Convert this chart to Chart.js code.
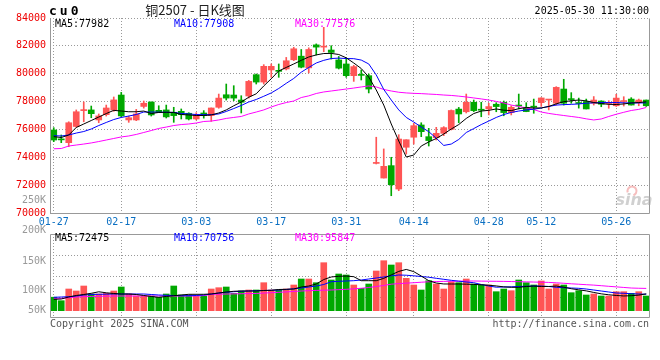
<!DOCTYPE html>
<html><head><meta charset="utf-8">
<script src="https://cdn.jsdelivr.net/npm/chart.js@4/dist/chart.umd.min.js"></script>
<style>
html,body{margin:0;padding:0;background:#fff;}
#wrap{position:relative;width:660px;height:360px;overflow:hidden;background:#fff;}
#wrap canvas{position:absolute;left:0;top:0;}
</style></head><body>
<div id="wrap"><canvas id="main" width="660" height="360"></canvas><canvas id="vol" width="660" height="360"></canvas></div>
<script>
// ---------- DATA ----------
const dates = ['01-27','02-05','02-06','02-07','02-10','02-11','02-12','02-13','02-14',
 '02-17','02-18','02-19','02-20','02-21','02-24','02-25','02-26','02-27','02-28',
 '03-03','03-04','03-05','03-06','03-07','03-10','03-11','03-12','03-13','03-14',
 '03-17','03-18','03-19','03-20','03-21','03-24','03-25','03-26','03-27','03-28',
 '03-31','04-01','04-02','04-03','04-07','04-08','04-09','04-10','04-11',
 '04-14','04-15','04-16','04-17','04-18','04-21','04-22','04-23','04-24','04-25',
 '04-28','04-29','04-30','05-06','05-07','05-08','05-09',
 '05-12','05-13','05-14','05-15','05-16','05-19','05-20','05-21','05-22','05-23',
 '05-26','05-27','05-28','05-29','05-30'];
const tickDates = ['01-27','02-17','03-03','03-17','03-31','04-14','04-28','05-12','05-26'];
const priceTicks = [70000,72000,74000,76000,78000,80000,82000,84000];

const opens  = [75960,75300,75050,76210,77350,77400,76680,77060,77400,78470,
 76680,76680,77650,77970,77370,77400,77230,77300,77160,76750,
 77180,76990,77590,78490,78470,78110,78400,79930,79400,80270,
 80220,80340,81000,81260,80420,82070,81910,81700,80990,80700,
 79860,79910,79860,73560,72510,73400,71720,74720,75440,76320,
 75480,75410,75720,76010,77460,77270,77950,77400,77470,77810,
 77950,77210,77700,77590,77640,77920,78110,77880,78900,78160,
 77900,78000,77880,78040,77860,77700,78000,78180,77950,78110];
const highs  = [76125,75600,76550,77400,77970,77680,77110,77750,78330,78660,
 76960,77440,78040,77970,77700,77750,77590,77470,77200,77200,
 77350,77540,78540,79260,79140,78420,79520,79980,80650,80700,
 80700,81170,81900,81740,81860,82140,83330,82010,81240,81130,
 80600,80270,79980,75440,74600,74000,75620,75260,76440,76480,
 76080,76150,76200,77400,77580,78540,78110,77950,77880,77920,
 78040,77700,78540,77920,78180,78280,78160,79070,79600,78640,
 78250,78180,78360,78060,78060,78520,78350,78280,78180,78110];
const lows   = [75120,75050,74760,76150,76550,76840,76480,76960,77300,76910,
 76510,76630,77530,76960,77210,76820,76510,76750,76680,76680,
 76810,76580,77520,78110,78070,77180,78250,79260,79260,79740,
 79740,80270,80940,80420,80060,81340,81580,81050,80340,79740,
 79450,79550,78620,73520,72510,71240,71600,74230,74950,75480,
 74810,75240,75550,75960,76480,77180,77280,76910,77040,77270,
 76980,77040,77470,77270,77160,77650,77400,77750,77750,77880,
 77530,77470,77750,77630,77520,77650,77680,77750,77700,77650];
const closes = [75240,75250,76480,77270,77400,77130,76970,77540,78120,76970,
 76840,77110,77880,77040,77210,76900,76990,77060,76750,77040,
 76990,77540,78250,78250,78250,77950,79450,79400,80530,80530,
 80170,80930,81790,80470,81740,81910,81980,81530,80400,79860,
 80510,79880,78900,73590,73350,72030,75310,75260,76270,75840,
 75200,75720,76130,77360,77110,77950,77350,77380,77640,77640,
 77210,77590,77680,77280,77600,78260,78150,79020,77880,78140,
 77860,77470,78110,77810,77900,78250,78060,77750,78110,77700];

const ma5  = [75480,75420,75600,76140,76390,76640,76890,77140,77370,77320,
 77270,77270,77320,77140,77220,77230,77220,77070,77040,77000,
 77000,77040,77180,77400,77700,77970,78310,78560,79120,79640,
 80200,80450,80700,80960,81200,81350,81450,81460,81380,81140,
 80770,80370,79760,78830,77750,76390,75170,74020,74160,74810,
 75100,75350,75670,76030,76350,76790,77140,77320,77370,77470,
 77380,77350,77490,77570,77540,77540,77650,77840,77990,78060,
 78110,78050,77930,77860,77800,77790,77830,77900,77930,77982];
const ma10 = [75550,75530,75600,75740,75850,76030,76280,76500,76710,76860,
 76960,77070,77250,77250,77240,77230,77220,77150,77110,77070,
 77060,77060,77110,77290,77500,77720,77970,78150,78380,78620,
 78940,79310,79660,80110,80450,80770,80960,81090,81120,81090,
 81080,80980,80700,79910,78870,78110,77400,76860,76530,76170,
 75840,75370,74850,74950,75280,75780,76060,76350,76600,76860,
 77070,77220,77320,77400,77450,77540,77650,77750,77780,77800,
 77830,77880,77910,77930,77930,77930,77910,77900,77900,77908];
const ma30 = [74610,74630,74810,74880,74950,75030,75130,75240,75350,75460,
 75530,75640,75780,75920,76070,76170,76280,76350,76390,76460,
 76570,76600,76680,76790,76860,76930,77110,77250,77400,77610,
 77790,77930,78040,78290,78410,78580,78690,78760,78830,78900,
 78970,79050,79120,79050,78870,78760,78670,78620,78590,78570,
 78540,78510,78470,78440,78390,78330,78260,78190,78110,78010,
 77900,77750,77650,77540,77430,77250,77150,77070,77000,76930,
 76860,76760,76680,76750,76930,77090,77230,77360,77440,77576];

const vols = [58000,43000,93300,84700,106200,71800,71800,74800,84700,101900,
 71800,63200,63200,63200,57600,71800,106200,67500,67500,63200,
 63200,93300,98900,101900,74800,84700,89000,89000,120400,89000,
 89000,93300,110500,136300,136300,120400,206400,132000,157800,153500,
 110500,96300,114800,170700,215000,196500,206400,139300,110500,89000,
 129000,114800,93300,124700,120400,136300,114800,110500,110500,81700,
 93300,86000,132000,120400,110500,127700,93300,114800,110500,77400,
 86000,67500,71800,63200,63200,81700,81700,74800,81700,63200];
const vma5 = [49000,50300,58900,65400,69700,74800,81300,77000,74000,71800,
 71800,69700,65400,61100,57600,61100,64500,67500,70500,70500,
 70500,71800,76100,80400,83400,84700,84700,84700,86900,87700,
 91200,92000,93300,101900,106200,114800,134000,145000,148000,149000,
 146200,129000,129000,129000,139000,154000,169000,177500,168000,149000,
 129000,119000,115000,114800,114800,114000,113000,111500,109500,106500,
 102500,100600,100600,104000,105800,104000,104000,106000,101000,94500,
 89800,85300,78500,72500,68500,65500,63300,64500,67000,72475];
const vma10 = [57600,58900,60200,63200,67500,69700,70500,71000,71800,71800,
 71800,71800,71800,69700,67500,66200,65400,64500,64500,65400,
 67500,71800,76100,79100,81700,83400,84700,86000,86900,87700,
 89000,91200,94200,97600,101900,106200,112700,124700,126400,127700,
 129000,132000,136300,140600,144900,150000,153500,152500,150000,147000,
 144000,139300,135000,130700,126900,123400,120400,112700,106200,101000,
 101900,102800,104100,104900,106200,106200,104100,100600,98900,97600,
 96300,93300,89000,84700,80400,76100,74800,73100,71800,70756];
const vma30 = [53300,53300,55900,58900,60200,61100,61900,62400,63200,63200,
 63200,63200,63200,63200,63200,63200,63200,63200,63200,63200,
 65000,70200,71000,71600,72400,73000,73600,74000,75800,77500,
 79000,80800,82800,84700,86000,87300,88300,89000,90500,92000,
 94000,96500,99800,104000,108500,114000,116500,118500,120300,122500,
 124300,125300,126000,126600,127000,127500,127700,127200,126800,126400,
 126000,125400,124700,124000,123200,122500,121700,120000,117900,115700,
 113800,111800,110000,107500,104900,102500,100000,97500,96500,95847];
const volLabels = ['250K','200K','150K','100K','50K'];

// ---------- STYLE ----------
const UP = '#ff5555', DN = '#00a800';
const MONO = 'DejaVu Sans Mono';
const GRID = '#999999';
const FRAME = '#999999';
const candleColors = closes.map((c, i) => c >= opens[i] ? UP : DN);
const last = a => a[a.length - 1];

function lineDs(data, color) {
  return {type:'line', data, borderColor:color, borderWidth:1, pointRadius:0, tension:0, order:0, fill:false};
}
const xGridColor = ctx => tickDates.includes(dates[ctx.index]) ? GRID : 'rgba(0,0,0,0)';

const framePlugin = {
  id: 'frame',
  afterDraw(chart, args, opts) {
    const {ctx, chartArea: a} = chart;
    const L = Math.round(a.left) + 0.5, R = Math.round(a.right) - 0.5;
    const T = Math.round(a.top) + 0.5, B = opts.inner ? Math.round(a.bottom) - 0.5 : Math.round(a.bottom) + 0.5;
    ctx.save();
    ctx.strokeStyle = FRAME; ctx.lineWidth = 1; ctx.setLineDash([]);
    ctx.beginPath();
    ctx.moveTo(L, T); ctx.lineTo(L, B); ctx.lineTo(R, B); ctx.lineTo(R, T);
    if (opts.top) ctx.lineTo(L, T);
    ctx.stroke();
    ctx.restore();
  }
};

function txt(ctx, s, x, y, color, font, align) {
  ctx.fillStyle = color; ctx.font = font; ctx.textAlign = align || 'left'; ctx.textBaseline = 'middle';
  ctx.fillText(s, x, y);
}

const mainText = {
  id: 'mainText',
  afterDraw(chart) {
    const ctx = chart.ctx, a = chart.chartArea;
    ctx.save();
    // header
    ctx.letterSpacing = '3px';
    txt(ctx, 'cu0', 49, 12, '#000', 'bold 13px ' + MONO);
    ctx.letterSpacing = '0px';
    txt(ctx, '铜2507 - 日K线图', 195, 10, '#222', '13px "Noto Sans CJK SC"', 'center');
    txt(ctx, '2025-05-30 11:30:00', a.right - 1, 11, '#000', '10px ' + MONO, 'right');
    // MA legend
    txt(ctx, 'MA5:' + last(ma5), 55, 24, '#000', '10px ' + MONO);
    txt(ctx, 'MA10:' + last(ma10), 174, 24, '#0000ff', '10px ' + MONO);
    txt(ctx, 'MA30:' + last(ma30), 295, 24, '#ff00ff', '10px ' + MONO);
    // volume axis labels (gray)
    const ys = [200, 230.5, 261, 290.5, 310.5];
    volLabels.forEach((s, i) => txt(ctx, s, 46, ys[i], '#999', '10px ' + MONO, 'right'));
    // footer
    txt(ctx, 'Copyright 2025 SINA.COM', 50, 324, '#555', '10px ' + MONO);
    txt(ctx, 'http://finance.sina.com.cn', a.right - 1, 324, '#555', '10px ' + MONO, 'right');
    // watermark
    ctx.globalAlpha = 0.55;
    ctx.strokeStyle = '#e88'; ctx.lineWidth = 2;
    ctx.beginPath(); ctx.arc(632, 191, 4.5, Math.PI * 0.9, Math.PI * 2.4); ctx.stroke();
    txt(ctx, 'sina', 634, 201, '#aaa', 'italic bold 16px "DejaVu Sans"', 'center');
    ctx.restore();
  }
};

const volText = {
  id: 'volText',
  afterDraw(chart) {
    const ctx = chart.ctx;
    ctx.save();
    txt(ctx, 'MA5:' + last(vma5), 55, 238.5, '#000', '10px ' + MONO);
    txt(ctx, 'MA10:' + last(vma10), 174, 238.5, '#0000ff', '10px ' + MONO);
    txt(ctx, 'MA30:' + last(vma30), 295, 238.5, '#ff00ff', '10px ' + MONO);
    ctx.restore();
  }
};

// ---------- MAIN (K-line) ----------
new Chart(document.getElementById('main'), {
  type: 'bar',
  data: {
    labels: dates,
    datasets: [
      lineDs(ma5, '#000000'),
      lineDs(ma10, '#0000ff'),
      lineDs(ma30, '#ff00ff'),
      {data: opens.map((o, i) => [o, closes[i]]), backgroundColor: candleColors, barThickness: 6,
       grouped: false, order: 1, minBarLength: 1, borderWidth: 0},
      {data: lows.map((l, i) => [l, highs[i]]), backgroundColor: candleColors, barThickness: 1,
       grouped: false, order: 2, borderWidth: 0}
    ]
  },
  options: {
    responsive: false, animation: false, devicePixelRatio: 1,
    layout: {padding: {left: 0, right: 10, top: 18, bottom: 127}},
    plugins: {legend: {display: false}, tooltip: {enabled: false}, frame: {top: false}},
    scales: {
      x: {
        offset: true,
        grid: {offset: false, drawTicks: false, color: xGridColor},
        border: {display: false, dash: [1, 2]},
        ticks: {autoSkip: false, maxRotation: 0, minRotation: 0, padding: 3, color: '#0a6fc2',
                font: {family: MONO, size: 10},
                callback: (v, i) => tickDates.includes(dates[i]) ? dates[i] : ''},
        afterFit: s => { s.height = 20; }
      },
      y: {
        min: priceTicks[0], max: last(priceTicks),
        afterBuildTicks: s => { s.ticks = priceTicks.map(v => ({value: v})); },
        ticks: {padding: 4, color: '#ee0000', font: {family: MONO, size: 10}, callback: v => String(v)},
        grid: {drawTicks: false, color: GRID},
        border: {display: false, dash: [1, 2]},
        afterFit: s => { s.width = 50; }
      }
    }
  },
  plugins: [framePlugin, mainText]
});

// ---------- VOLUME ----------
const VMIN = -31400, VMAX = 329800;
new Chart(document.getElementById('vol'), {
  type: 'bar',
  data: {
    labels: dates,
    datasets: [
      lineDs(vma5, '#000000'),
      lineDs(vma10, '#0000ff'),
      lineDs(vma30, '#ff00ff'),
      {data: vols, backgroundColor: candleColors, barThickness: 6, order: 1, borderWidth: 0}
    ]
  },
  options: {
    responsive: false, animation: false, devicePixelRatio: 1,
    layout: {padding: {left: 0, right: 10, top: 234, bottom: 42}},
    plugins: {legend: {display: false}, tooltip: {enabled: false}, frame: {top: true, inner: true}},
    scales: {
      x: {
        offset: true,
        grid: {offset: false, drawTicks: false, color: xGridColor},
        border: {display: false, dash: [1, 2]},
        ticks: {display: false, autoSkip: false},
        afterFit: s => { s.height = 0; }
      },
      y: {
        min: VMIN, max: VMAX,
        afterBuildTicks: s => { s.ticks = [1, 2, 3].map(q => ({value: VMIN + q * (VMAX - VMIN) / 4})); },
        ticks: {display: false},
        grid: {drawTicks: false, color: GRID},
        border: {display: false, dash: [1, 2]},
        afterFit: s => { s.width = 50; }
      }
    }
  },
  plugins: [framePlugin, volText]
});
</script>
</body></html>
